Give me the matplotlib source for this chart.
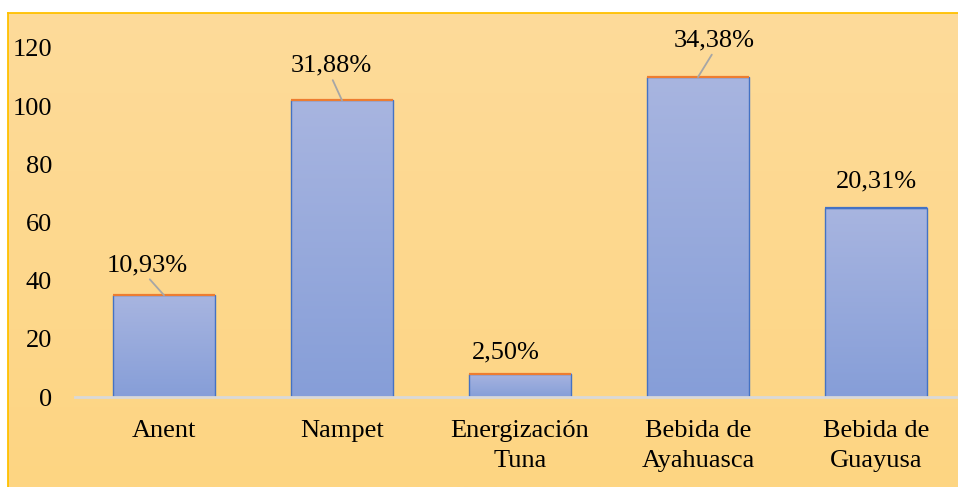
import matplotlib
matplotlib.use("Agg")
import matplotlib.pyplot as plt
import numpy as np
from matplotlib.colors import LinearSegmentedColormap

categories = ["Anent", "Nampet", "Energización\nTuna", "Bebida de\nAyahuasca", "Bebida de\nGuayusa"]
values = [35, 102, 8, 110, 65]
pct_labels = ["10,93%", "31,88%", "2,50%", "34,38%", "20,31%"]

# label placement (pixels from bar top) and whether a leader line is drawn
label_offsets = [(-17, 30), (-11, 35), (-14, 21), (16, 37), (0, 27)]
leader = [True, True, False, True, False]
top_edge = ["#ED7D31", "#ED7D31", "#ED7D31", "#ED7D31", "#4472C4"]

W, H = 958, 487
plt.rcParams['font.family'] = 'serif'
plt.rcParams['font.serif'] = ['Liberation Serif', 'DejaVu Serif']
fig = plt.figure(figsize=(W / 100, H / 100), dpi=100)

# chart area with soft orange gradient
bg = fig.add_axes([8 / W, 0, 1 - 8 / W, (H - 13) / H], zorder=0)
grad = np.linspace(0, 1, 256).reshape(-1, 1)
bgCmap = LinearSegmentedColormap.from_list("bg", ["#FDDB9A", "#FED582"])
bg.imshow(grad, cmap=bgCmap, aspect='auto', extent=[0, 1, 0, 1], origin='upper')
bg.set_xticks([])
bg.set_yticks([])
for side in ["right", "bottom"]:
    bg.spines[side].set_visible(False)
for side in ["left", "top"]:
    bg.spines[side].set_color("#FFC000")
    bg.spines[side].set_linewidth(1.3)

ax = fig.add_axes([75 / W, (H - 397) / H, 890 / W, 349 / H], zorder=1)
ax.patch.set_visible(False)

x = np.arange(len(categories))
barCmap = LinearSegmentedColormap.from_list("bar", ["#A8B5E0", "#869ED8"])
bars = ax.bar(x, values, width=0.575, color='none', edgecolor='#4472C4', linewidth=1.0, zorder=3)

for i, bar in enumerate(bars):
    x0 = bar.get_x()
    x1 = x0 + bar.get_width()
    h = bar.get_height()
    ax.imshow(grad, cmap=barCmap, aspect='auto', extent=[x0, x1, 0, h], origin='upper', zorder=2)
    ax.plot([x0, x1], [h, h], color=top_edge[i], linewidth=1.6, zorder=4, solid_capstyle='butt')
    arrow = None
    if leader[i]:
        arrow = dict(arrowstyle='-', color='#A6A6A6', linewidth=1.3, patchA=None,
                     relpos=(0.5, 0.0), shrinkA=3, shrinkB=0)
    ax.annotate(pct_labels[i], xy=(x[i], h), xytext=label_offsets[i], textcoords='offset pixels',
                ha='center', va='center', fontsize=19, color='#000000',
                arrowprops=arrow, annotation_clip=False, zorder=5)

ax.set_xlim(-0.5, len(categories) - 0.5)
ax.set_ylim(0, 120)
ax.set_yticks(np.arange(0, 121, 20))
ax.set_xticks(x)
ax.set_xticklabels(categories, linespacing=1.45)
ax.tick_params(axis='y', length=0, labelsize=19, pad=16.5)
ax.tick_params(axis='x', length=0, labelsize=19, pad=16.5)
for s in ax.spines.values():
    s.set_visible(False)
ax.axhline(0, color='#D9D9D9', linewidth=2, zorder=4, clip_on=False)

fig.savefig("out.png", dpi=100)
